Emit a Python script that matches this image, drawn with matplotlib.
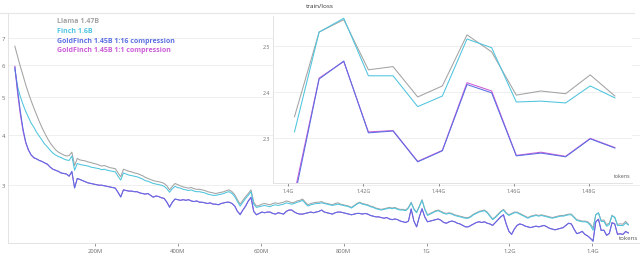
import numpy as np
import matplotlib
matplotlib.use("Agg")
import matplotlib.pyplot as plt
from matplotlib.ticker import FuncFormatter, NullLocator

plt.rcParams['font.family'] = ['Open Sans', 'DejaVu Sans']

# train/loss logged every ~6.55M tokens
log_every = 6.55e6

llama = [
    6.68, 6.30, 5.95, 5.65, 5.35, 5.10, 4.88, 4.68, 4.50, 4.33,
    4.18, 4.05, 3.93, 3.83, 3.75, 3.68, 3.63, 3.60, 3.57, 3.55,
    3.56, 3.63, 3.36, 3.50, 3.47, 3.46, 3.45, 3.43, 3.42, 3.40,
    3.39, 3.37, 3.35, 3.36, 3.34, 3.32, 3.31, 3.30, 3.22, 3.15,
    3.29, 3.27, 3.25, 3.24, 3.22, 3.21, 3.19, 3.17, 3.14, 3.12,
    3.10, 3.08, 3.07, 3.06, 3.05, 3.03, 2.99, 2.92, 2.98, 3.03,
    3.01, 2.99, 2.97, 2.96, 2.95, 2.96, 2.94, 2.93, 2.93, 2.92,
    2.91, 2.89, 2.88, 2.87, 2.86, 2.87, 2.88, 2.89, 2.91, 2.92,
    2.89, 2.84, 2.76, 2.69, 2.75, 2.81, 2.86, 2.92, 2.72, 2.66,
    2.67, 2.69, 2.70, 2.69, 2.68, 2.70, 2.71, 2.70, 2.71, 2.72,
    2.74, 2.73, 2.71, 2.72, 2.74, 2.75, 2.77, 2.72, 2.68, 2.70,
    2.71, 2.72, 2.72, 2.73, 2.71, 2.70, 2.69, 2.68, 2.70, 2.71,
    2.69, 2.68, 2.67, 2.66, 2.64, 2.67, 2.70, 2.72, 2.70, 2.69,
    2.68, 2.66, 2.65, 2.63, 2.62, 2.61, 2.62, 2.63, 2.64, 2.63,
    2.64, 2.62, 2.61, 2.61, 2.60, 2.64, 2.72, 2.62, 2.57, 2.66,
    2.76, 2.62, 2.53, 2.55, 2.57, 2.59, 2.60, 2.58, 2.56, 2.55,
    2.56, 2.55, 2.53, 2.52, 2.51, 2.50, 2.49, 2.49, 2.51, 2.54,
    2.56, 2.58, 2.59, 2.60, 2.57, 2.52, 2.47, 2.50, 2.54, 2.58,
    2.61, 2.56, 2.53, 2.55, 2.57, 2.57, 2.55, 2.53, 2.51, 2.49,
    2.51, 2.52, 2.53, 2.52, 2.53, 2.52, 2.51, 2.50, 2.49, 2.50,
    2.51, 2.52, 2.52, 2.53, 2.54, 2.54, 2.50, 2.46, 2.45, 2.44,
    2.44, 2.43, 2.40,
    2.346, 2.530, 2.557, 2.448, 2.455, 2.389, 2.413, 2.524, 2.487, 2.393,
    2.402, 2.396, 2.437, 2.391,
]

finch = [
    5.85, 5.30, 5.00, 4.78, 4.59, 4.44, 4.29, 4.19, 4.07, 3.98,
    3.89, 3.80, 3.74, 3.67, 3.61, 3.57, 3.54, 3.52, 3.49, 3.47,
    3.46, 3.55, 3.27, 3.40, 3.38, 3.37, 3.36, 3.35, 3.33, 3.32,
    3.31, 3.30, 3.28, 3.29, 3.27, 3.26, 3.25, 3.24, 3.16, 3.09,
    3.22, 3.20, 3.18, 3.17, 3.16, 3.15, 3.13, 3.11, 3.08, 3.07,
    3.05, 3.03, 3.02, 3.01, 3.00, 2.98, 2.94, 2.88, 2.94, 2.98,
    2.96, 2.95, 2.93, 2.92, 2.91, 2.92, 2.90, 2.89, 2.89, 2.88,
    2.87, 2.85, 2.84, 2.83, 2.83, 2.84, 2.85, 2.86, 2.88, 2.89,
    2.86, 2.81, 2.73, 2.66, 2.72, 2.78, 2.83, 2.89, 2.69, 2.64,
    2.65, 2.66, 2.67, 2.66, 2.65, 2.67, 2.68, 2.67, 2.68, 2.69,
    2.71, 2.70, 2.69, 2.70, 2.72, 2.73, 2.75, 2.70, 2.66, 2.68,
    2.69, 2.70, 2.70, 2.71, 2.70, 2.69, 2.68, 2.67, 2.68, 2.69,
    2.68, 2.67, 2.66, 2.65, 2.63, 2.66, 2.69, 2.71, 2.69, 2.68,
    2.67, 2.65, 2.64, 2.62, 2.61, 2.60, 2.61, 2.62, 2.63, 2.62,
    2.63, 2.61, 2.60, 2.60, 2.59, 2.63, 2.71, 2.61, 2.56, 2.65,
    2.75, 2.61, 2.52, 2.54, 2.56, 2.58, 2.59, 2.57, 2.55, 2.54,
    2.55, 2.54, 2.52, 2.51, 2.50, 2.49, 2.48, 2.48, 2.50, 2.53,
    2.55, 2.57, 2.58, 2.59, 2.56, 2.51, 2.46, 2.49, 2.53, 2.57,
    2.60, 2.55, 2.52, 2.54, 2.56, 2.56, 2.54, 2.52, 2.50, 2.48,
    2.50, 2.51, 2.52, 2.51, 2.52, 2.51, 2.50, 2.49, 2.48, 2.49,
    2.50, 2.51, 2.51, 2.52, 2.53, 2.53, 2.49, 2.45, 2.44, 2.43,
    2.43, 2.42, 2.38,
    2.313, 2.530, 2.560, 2.435, 2.435, 2.368, 2.391, 2.515, 2.496, 2.378,
    2.380, 2.376, 2.413, 2.387,
]

goldfinch_16 = [
    5.92, 5.20, 4.60, 4.15, 3.85, 3.68, 3.57, 3.52, 3.49, 3.46,
    3.44, 3.41, 3.39, 3.33, 3.29, 3.27, 3.25, 3.22, 3.21, 3.20,
    3.16, 3.25, 2.95, 3.12, 3.10, 3.08, 3.06, 3.04, 3.03, 3.02,
    3.01, 3.00, 3.00, 2.99, 2.98, 2.97, 2.96, 2.95, 2.88, 2.80,
    2.92, 2.91, 2.90, 2.90, 2.89, 2.89, 2.87, 2.86, 2.85, 2.86,
    2.83, 2.80, 2.82, 2.81, 2.79, 2.78, 2.72, 2.64, 2.72, 2.77,
    2.76, 2.75, 2.76, 2.75, 2.76, 2.74, 2.73, 2.74, 2.72, 2.72,
    2.71, 2.70, 2.71, 2.69, 2.69, 2.68, 2.70, 2.71, 2.72, 2.72,
    2.70, 2.66, 2.58, 2.53, 2.60, 2.66, 2.74, 2.80, 2.58, 2.53,
    2.55, 2.57, 2.56, 2.57, 2.57, 2.55, 2.54, 2.56, 2.55, 2.54,
    2.58, 2.60, 2.60, 2.57, 2.55, 2.54, 2.54, 2.55, 2.56, 2.57,
    2.56, 2.57, 2.58, 2.60, 2.57, 2.56, 2.55, 2.54, 2.56, 2.57,
    2.57, 2.56, 2.55, 2.54, 2.53, 2.54, 2.55, 2.55, 2.54, 2.55,
    2.54, 2.52, 2.51, 2.50, 2.50, 2.49, 2.48, 2.49, 2.47, 2.46,
    2.47, 2.46, 2.44, 2.43, 2.42, 2.44, 2.62, 2.44, 2.36, 2.50,
    2.62, 2.50, 2.43, 2.44, 2.45, 2.46, 2.47, 2.45, 2.42, 2.41,
    2.43, 2.44, 2.43, 2.41, 2.40, 2.38, 2.36, 2.36, 2.38, 2.40,
    2.42, 2.43, 2.42, 2.43, 2.41, 2.40, 2.38, 2.42, 2.46, 2.50,
    2.53, 2.40, 2.30, 2.26, 2.33, 2.38, 2.40, 2.39, 2.37, 2.36,
    2.35, 2.36, 2.37, 2.36, 2.37, 2.38, 2.36, 2.34, 2.33, 2.32,
    2.33, 2.34, 2.35, 2.38, 2.41, 2.40, 2.33, 2.27, 2.28, 2.30,
    2.26, 2.24, 2.21,
    2.170, 2.428, 2.467, 2.311, 2.315, 2.248, 2.272, 2.416, 2.398, 2.261,
    2.267, 2.259, 2.298, 2.278,
]

goldfinch_1 = [
    5.95, 5.10, 4.52, 4.10, 3.83, 3.67, 3.57, 3.51, 3.49, 3.46,
    3.44, 3.41, 3.38, 3.33, 3.29, 3.27, 3.25, 3.22, 3.21, 3.20,
    3.16, 3.24, 2.96, 3.12, 3.10, 3.08, 3.06, 3.04, 3.03, 3.02,
    3.01, 3.00, 3.00, 2.99, 2.98, 2.97, 2.96, 2.95, 2.88, 2.81,
    2.92, 2.91, 2.90, 2.90, 2.89, 2.89, 2.87, 2.86, 2.85, 2.86,
    2.83, 2.80, 2.82, 2.81, 2.79, 2.78, 2.72, 2.65, 2.72, 2.77,
    2.76, 2.75, 2.76, 2.75, 2.76, 2.74, 2.73, 2.74, 2.72, 2.72,
    2.71, 2.70, 2.71, 2.69, 2.69, 2.68, 2.70, 2.71, 2.72, 2.72,
    2.70, 2.66, 2.58, 2.54, 2.60, 2.66, 2.74, 2.79, 2.58, 2.53,
    2.55, 2.57, 2.56, 2.57, 2.57, 2.55, 2.54, 2.56, 2.55, 2.54,
    2.58, 2.60, 2.60, 2.57, 2.55, 2.54, 2.54, 2.55, 2.56, 2.57,
    2.56, 2.57, 2.58, 2.60, 2.57, 2.56, 2.55, 2.54, 2.56, 2.57,
    2.57, 2.56, 2.55, 2.54, 2.53, 2.54, 2.55, 2.55, 2.54, 2.55,
    2.54, 2.52, 2.51, 2.50, 2.50, 2.49, 2.48, 2.49, 2.47, 2.46,
    2.47, 2.46, 2.44, 2.43, 2.42, 2.44, 2.61, 2.44, 2.36, 2.50,
    2.62, 2.50, 2.43, 2.44, 2.45, 2.46, 2.47, 2.45, 2.42, 2.41,
    2.43, 2.44, 2.43, 2.41, 2.40, 2.38, 2.36, 2.36, 2.38, 2.40,
    2.42, 2.43, 2.42, 2.43, 2.41, 2.40, 2.38, 2.42, 2.46, 2.50,
    2.53, 2.40, 2.30, 2.26, 2.33, 2.38, 2.40, 2.39, 2.37, 2.36,
    2.35, 2.36, 2.37, 2.36, 2.37, 2.38, 2.36, 2.34, 2.33, 2.32,
    2.33, 2.34, 2.35, 2.38, 2.41, 2.40, 2.33, 2.27, 2.28, 2.30,
    2.26, 2.24, 2.21,
    2.180, 2.430, 2.466, 2.313, 2.316, 2.249, 2.273, 2.420, 2.402, 2.262,
    2.269, 2.260, 2.299, 2.279,
]

series = [
    ("Llama 1.47B", llama, "#a3a3a3"),
    ("Finch 1.6B", finch, "#4ec4de"),
    ("GoldFinch 1.45B 1:1 compression", goldfinch_1, "#c95cd6"),
    ("GoldFinch 1.45B 1:16 compression", goldfinch_16, "#5a6ee3"),
]
legend_order = [0, 1, 3, 2]

tokens = log_every * np.arange(1, len(llama) + 1)
inset_from = 213  # first logged point inside the zoomed window

main_xticks = [200e6, 400e6, 600e6, 800e6, 1e9, 1.2e9, 1.4e9]
main_yticks = [3, 4, 5, 6, 7]
inset_xticks = [1.40e9, 1.42e9, 1.44e9, 1.46e9, 1.48e9]
inset_yticks = [2.3, 2.4, 2.5]


def fmt_tokens(v, pos=None):
    if v >= 1e9:
        s = "%g" % round(v / 1e9, 2)
        return s + "G"
    return "%gM" % round(v / 1e6)


grid_c = "#ededed"
tick_c = "#6b6b6b"

fig = plt.figure(figsize=(6.4, 2.55), dpi=100)
fig.text(0.5, 0.985, "train/loss", ha="center", va="top", fontsize=4.6, color="#333333")
fig.add_artist(plt.Line2D([0.0, 0.99], [0.945, 0.945], color="#e6e6e6", lw=0.8))

ax = fig.add_axes([0.0125, 0.043, 0.9875, 0.902])
for name, vals, col in series:
    ax.plot(tokens, vals, color=col, lw=0.75)
ax.set_yscale("log")
ax.set_ylim(2.15, 8.09)
ax.set_xlim(-0.01e9, 1.515e9)
ax.yaxis.set_minor_locator(NullLocator())
ax.set_yticks(main_yticks)
ax.set_yticklabels([str(t) for t in main_yticks])
ax.set_xticks(main_xticks)
ax.xaxis.set_major_formatter(FuncFormatter(fmt_tokens))
ax.grid(axis="y", color=grid_c, lw=0.6)
for s in ["top", "right"]:
    ax.spines[s].set_visible(False)
for s in ["left", "bottom"]:
    ax.spines[s].set_color("#e3e3e3")
    ax.spines[s].set_linewidth(0.7)
ax.tick_params(axis="both", labelsize=4.2, colors=tick_c, length=2, width=0.5, pad=1.5)
ax.tick_params(axis="y", length=0, pad=2)
ax.text(0.997, 0.015, "tokens", transform=ax.transAxes, ha="right", va="bottom",
        fontsize=4.4, color="#555555")

# legend as coloured bold labels
for i, idx in enumerate(legend_order):
    name, vals, col = series[idx]
    fig.text(0.089, 0.914 - i * 0.038, name, color=col, fontsize=5.0,
             fontweight="bold", va="center", ha="left")

# zoomed inset on the last part of the run
ins = fig.add_axes([0.4266, 0.2784, 0.5609, 0.655])
ins.set_facecolor("white")
for name, vals, col in series:
    ins.plot(tokens[inset_from:], vals[inset_from:], color=col, lw=0.75)
ins.set_xlim(1.3960e9, 1.4914e9)
ins.set_ylim(2.202, 2.565)
ins.set_xticks(inset_xticks)
ins.xaxis.set_major_formatter(FuncFormatter(fmt_tokens))
ins.set_yticks(inset_yticks)
ins.set_yticklabels(["%.1f" % t for t in inset_yticks])
ins.grid(axis="y", color=grid_c, lw=0.6)
for s in ["top", "right"]:
    ins.spines[s].set_visible(False)
for s in ["left", "bottom"]:
    ins.spines[s].set_color("#e3e3e3")
    ins.spines[s].set_linewidth(0.7)
ins.tick_params(axis="both", labelsize=3.8, colors=tick_c, length=2, width=0.5, pad=1.5)
ins.tick_params(axis="y", length=0, pad=2)
ins.text(0.995, 0.03, "tokens", transform=ins.transAxes, ha="right", va="bottom",
         fontsize=3.8, color="#555555")

fig.savefig("out.png", dpi=100, facecolor="white")
